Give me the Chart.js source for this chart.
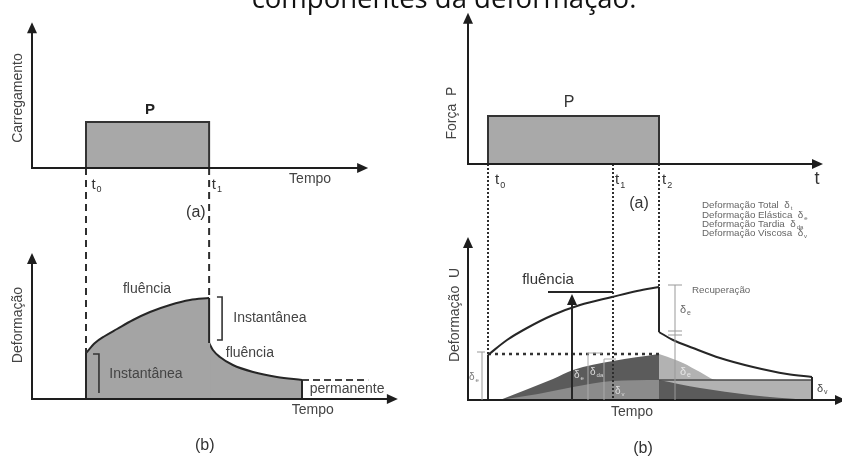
<!DOCTYPE html>
<html>
<head>
<meta charset="utf-8">
<script src="https://cdn.jsdelivr.net/npm/chart.js@4.4.0/dist/chart.umd.min.js"></script>
<style>
  html, body { margin: 0; padding: 0; background: #fff; }
  canvas { display: block; }
</style>
</head>
<body>
<canvas id="fig" width="842" height="457"></canvas>
<script>
// ---- data (schematic units) ----
// left figure: load step and deformation response
const leftLoadT = [2.0, 2.0, 6.56, 6.56];
const leftLoadP = [0, 1, 1, 0];
const leftCreepT = [2.0, 2.33, 2.70, 3.15, 3.74, 4.37, 5.11, 5.85, 6.56];
const leftCreepD = [4.6, 5.6, 6.3, 7.0, 7.9, 8.7, 9.4, 9.9, 10.1];
const leftRecovT = [6.56, 6.7, 6.96, 7.44, 8.19, 9.07, 10.0];
const leftRecovD = [5.6, 4.9, 4.2, 3.4, 2.7, 2.2, 1.9];
const leftPermT = [10.0, 12.45];
const leftPermD = [1.9, 1.9];

// right figure: force P and deformation U
const rightLoadT = [1.0, 1.0, 9.55, 9.55];
const rightLoadP = [0, 1, 1, 0];
const rightCreepT = [1.0, 1.95, 2.95, 4.25, 5.6, 7.2, 8.45, 9.55];
const rightCreepD = [4.5, 6.0, 7.2, 8.5, 9.5, 10.3, 10.9, 11.3];
const rightRecovT = [9.55, 10.25, 11.25, 12.6, 14.25, 15.95, 17.2];
const rightRecovD = [6.8, 6.0, 5.2, 4.2, 3.3, 2.6, 2.3];
const elasticLevelT = [1.0, 9.55];
const elasticLevelD = [4.6, 4.6];
// component areas
const delayedT = [1.6, 3.0, 4.25, 5.25, 7.25, 9.55];
const delayedD = [0, 1.1, 2.1, 3.0, 3.9, 4.6];
const viscousT = [1.6, 3.5, 5.25, 7.2, 9.55];
const viscousD = [0, 0.6, 1.3, 1.9, 2.0];
const elasticRecT = [9.55, 9.7, 10.75, 11.6, 12.45, 17.2];
const elasticRecD = [4.6, 4.5, 3.7, 2.8, 2.0, 2.0];
const delayedRecT = [9.55, 11.6, 14.1, 16.95];
const delayedRecD = [2.0, 1.2, 0.5, 0];
const permBandT = [9.55, 17.2];
const permBandD = [2.0, 2.0];

// ---- layout: where each scale's zero sits on the page, and pixels per unit ----
const W = 842, H = 457;
const FRAME = {
    xL:  { origin: 32,  ppu: 27 },
    yTL: { origin: 168, ppu: 46 },
    yBL: { origin: 399, ppu: 10 },
    xR:  { origin: 468, ppu: 20 },
    yTR: { origin: 164, ppu: 48 },
    yBR: { origin: 400, ppu: 10 }
};

function xScale(f) {
    return { type: 'linear', display: false, min: -f.origin / f.ppu, max: (W - f.origin) / f.ppu };
}
function yScale(f) {
    return { type: 'linear', display: false, min: -(H - f.origin) / f.ppu, max: f.origin / f.ppu };
}

function pts(ts, vs) {
    return ts.map((t, i) => ({ x: t, y: vs[i] }));
}

function line(ts, vs, xID, yID, opts) {
    return Object.assign({
        data: pts(ts, vs),
        xAxisID: xID,
        yAxisID: yID,
        borderColor: '#262626',
        borderWidth: 2,
        pointRadius: 0,
        tension: 0,
        fill: false,
        order: 0
    }, opts || {});
}

const smooth = { tension: 0.4, cubicInterpolationMode: 'monotone' };
const LEFT_FILL = '#a4a4a4';

const datasets = [
    // left top: load
    line(leftLoadT, leftLoadP, 'xL', 'yTL', { fill: 'origin', backgroundColor: '#a8a8a8', borderColor: '#333' }),
    // left bottom: deformation
    line(leftCreepT, leftCreepD, 'xL', 'yBL', Object.assign({ fill: 'origin', backgroundColor: LEFT_FILL, order: 2 }, smooth)),
    line(leftRecovT, leftRecovD, 'xL', 'yBL', Object.assign({ fill: 'origin', backgroundColor: LEFT_FILL, order: 2 }, smooth)),
    // hides the seam where the two filled areas meet
    line([6.56, 6.56], [5.6, 0], 'xL', 'yBL', { borderColor: LEFT_FILL, order: 1 }),
    line([2.0, 2.0], [0, 4.6], 'xL', 'yBL'),
    line([6.56, 6.56], [10.1, 5.6], 'xL', 'yBL'),
    line([10.0, 10.0], [1.9, 0], 'xL', 'yBL'),
    line(leftPermT, leftPermD, 'xL', 'yBL', { borderDash: [7, 4], borderColor: '#444' }),

    // right top: force
    line(rightLoadT, rightLoadP, 'xR', 'yTR', { fill: 'origin', backgroundColor: '#a9a9a9', borderColor: '#333' }),

    // right bottom: component areas
    line(delayedT, delayedD, 'xR', 'yBR', Object.assign({ fill: 'origin', backgroundColor: '#5b5b5b', borderWidth: 0, order: 6 }, smooth)),
    line(viscousT, viscousD, 'xR', 'yBR', Object.assign({ fill: 'origin', backgroundColor: '#8b8b8b', borderWidth: 0, order: 5 }, smooth)),
    line(elasticRecT, elasticRecD, 'xR', 'yBR', Object.assign({ fill: 'origin', backgroundColor: '#b2b2b2', borderWidth: 0, order: 6 }, smooth)),
    line(delayedRecT, delayedRecD, 'xR', 'yBR', Object.assign({ fill: 'origin', backgroundColor: '#5b5b5b', borderWidth: 0, order: 5 }, smooth)),
    line(permBandT, permBandD, 'xR', 'yBR', { borderColor: '#4a4a4a', borderWidth: 1.5, order: 1 }),
    line(elasticLevelT, elasticLevelD, 'xR', 'yBR', { borderDash: [3, 4], borderWidth: 2.5, borderColor: '#333', order: 1 }),

    // right bottom: deformation curve
    line(rightCreepT, rightCreepD, 'xR', 'yBR', smooth),
    line(rightRecovT, rightRecovD, 'xR', 'yBR', smooth),
    line([1.0, 1.0], [0, 4.5], 'xR', 'yBR'),
    line([9.55, 9.55], [11.3, 6.8], 'xR', 'yBR'),
    line([17.2, 17.2], [2.3, 0], 'xR', 'yBR')
];

// ---- annotations ----
const AXES = [
    { x: 'xL', y: 'yTL', xEnd: 12.45, yEnd: 3.17 },
    { x: 'xL', y: 'yBL', xEnd: 13.55, yEnd: 14.6 },
    { x: 'xR', y: 'yTR', xEnd: 17.75, yEnd: 3.15 },
    { x: 'xR', y: 'yBR', xEnd: 18.9, yEnd: 16.3 }
];

// vertical guide lines running from the load axis down to the deformation plot
const CONNECTORS = [
    { ax: 'xL', t: 2.0,  from: ['yTL', 0], to: ['yBL', 4.6],  dash: [7, 5] },
    { ax: 'xL', t: 6.56, from: ['yTL', 0], to: ['yBL', 10.1], dash: [7, 5] },
    { ax: 'xR', t: 1.0,  from: ['yTR', 0], to: ['yBR', 4.5],  dash: [2, 2] },
    { ax: 'xR', t: 7.25, from: ['yTR', 0], to: ['yBR', 0],    dash: [2, 2] },
    { ax: 'xR', t: 9.55, from: ['yTR', 0], to: ['yBR', 11.3], dash: [2, 2] }
];

const GUIDES = [
    { ax: 'xL', ay: 'yBL', c: '#333', w: 1.6, p: [[6.85, 10.2], [7.04, 10.2], [7.04, 5.9], [6.85, 5.9]] },
    { ax: 'xL', ay: 'yBL', c: '#333', w: 1.6, p: [[2.26, 4.5], [2.48, 4.5], [2.48, 0.6]] },
    { ax: 'xR', ay: 'yBR', c: '#999', w: 1, p: [[0.45, 4.8], [0.85, 4.8]] },
    { ax: 'xR', ay: 'yBR', c: '#999', w: 1, p: [[0.7, 4.8], [0.7, 0]] },
    { ax: 'xR', ay: 'yBR', c: '#aaa', w: 1, p: [[6.0, 0], [6.0, 4.7], [6.7, 4.7]] },
    { ax: 'xR', ay: 'yBR', c: '#aaa', w: 1, p: [[6.8, 0], [6.8, 4.1], [7.4, 4.1]] },
    { ax: 'xR', ay: 'yBR', c: '#999', w: 1, p: [[10.35, 11.5], [10.35, 0]] },
    { ax: 'xR', ay: 'yBR', c: '#999', w: 1, p: [[10.0, 11.5], [10.7, 11.5]] },
    { ax: 'xR', ay: 'yBR', c: '#999', w: 1, p: [[10.0, 6.9], [10.7, 6.9]] },
    { ax: 'xR', ay: 'yBR', c: '#999', w: 1, p: [[10.0, 6.5], [10.7, 6.5]] },
    { ax: 'xR', ay: 'yBR', c: '#262626', w: 2, p: [[5.2, 0], [5.2, 10.2]], arrow: true },
    { ax: 'xR', ay: 'yBR', c: '#262626', w: 2, p: [[4.0, 10.8], [7.25, 10.8]] }
];

const FONT = '"Liberation Sans", Arial, sans-serif';
// [text, subscript, xAxis, yAxis, x, y, size, colour, align, rotated, weight]
const TEXTS = [
    ['P', '', 'xL', 'yTL', 4.37, 1.27, 15, '#222', 'center', false, 'bold'],
    ['t', '0', 'xL', 'yTL', 2.2, -0.36, 15, '#333', 'left', false],
    ['t', '1', 'xL', 'yTL', 6.66, -0.36, 15, '#333', 'left', false],
    ['Tempo', '', 'xL', 'yTL', 10.3, -0.24, 14, '#444', 'center', false],
    ['(a)', '', 'xL', 'yTL', 6.07, -0.96, 16, '#333', 'center', false],
    ['Carregamento', '', 'xL', 'yTL', -0.52, 1.52, 14, '#444', 'center', true],
    ['fluência', '', 'xL', 'yBL', 4.26, 11.0, 14, '#444', 'center', false],
    ['Instantânea', '', 'xL', 'yBL', 8.81, 8.1, 14, '#444', 'center', false],
    ['fluência', '', 'xL', 'yBL', 8.07, 4.6, 14, '#444', 'center', false],
    ['Instantânea', '', 'xL', 'yBL', 4.22, 2.5, 14, '#444', 'center', false],
    ['permanente', '', 'xL', 'yBL', 11.67, 1.0, 14, '#444', 'center', false],
    ['Tempo', '', 'xL', 'yBL', 10.4, -1.1, 14, '#444', 'center', false],
    ['(b)', '', 'xL', 'yBL', 6.4, -4.7, 16, '#333', 'center', false],
    ['Deformação', '', 'xL', 'yBL', -0.52, 7.4, 14, '#444', 'center', true],

    ['P', '', 'xR', 'yTR', 5.05, 1.27, 16, '#333', 'center', false],
    ['t', '0', 'xR', 'yTR', 1.35, -0.34, 15, '#333', 'left', false],
    ['t', '1', 'xR', 'yTR', 7.35, -0.34, 15, '#333', 'left', false],
    ['t', '2', 'xR', 'yTR', 9.7, -0.34, 15, '#333', 'left', false],
    ['t', '', 'xR', 'yTR', 17.45, -0.31, 18, '#333', 'center', false],
    ['(a)', '', 'xR', 'yTR', 8.55, -0.83, 16, '#333', 'center', false],
    ['Força  P', '', 'xR', 'yTR', -0.8, 1.06, 14, '#444', 'center', true],
    ['Deformação Total  δ', 't', 'xR', 'yTR', 11.7, -0.86, 9.8, '#666', 'left', false],
    ['Deformação Elástica  δ', 'e', 'xR', 'yTR', 11.7, -1.07, 9.8, '#666', 'left', false],
    ['Deformação Tardia  δ', 'da', 'xR', 'yTR', 11.7, -1.26, 9.8, '#666', 'left', false],
    ['Deformação Viscosa  δ', 'v', 'xR', 'yTR', 11.7, -1.45, 9.8, '#666', 'left', false],

    ['fluência', '', 'xR', 'yBR', 4.0, 12.0, 15, '#333', 'center', false],
    ['Recuperação', '', 'xR', 'yBR', 11.2, 11.0, 9.8, '#666', 'left', false],
    ['δ', 'e', 'xR', 'yBR', 10.6, 9.0, 11, '#666', 'left', false],
    ['δ', 'e', 'xR', 'yBR', 0.05, 2.3, 10, '#777', 'left', false],
    ['δ', 'e', 'xR', 'yBR', 5.3, 2.5, 10, '#ddd', 'left', false],
    ['δ', 'da', 'xR', 'yBR', 6.1, 2.8, 10, '#ddd', 'left', false],
    ['δ', 'v', 'xR', 'yBR', 7.35, 0.9, 10, '#ddd', 'left', false],
    ['δ', 'e', 'xR', 'yBR', 10.6, 2.8, 11, '#e6e6e6', 'left', false],
    ['δ', 'v', 'xR', 'yBR', 17.45, 1.1, 11, '#444', 'left', false],
    ['Tempo', '', 'xR', 'yBR', 8.2, -1.2, 14, '#444', 'center', false],
    ['(b)', '', 'xR', 'yBR', 8.75, -4.9, 16, '#333', 'center', false],
    ['Deformação  U', '', 'xR', 'yBR', -0.65, 8.5, 14, '#444', 'center', true]
];

function arrowHead(c, x, y, dir) {
    const len = 11, half = 5;
    c.save();
    c.translate(x, y);
    c.rotate(dir);
    c.beginPath();
    c.moveTo(0, 0);
    c.lineTo(-len, -half);
    c.lineTo(-len, half);
    c.closePath();
    c.fillStyle = '#1e1e1e';
    c.fill();
    c.restore();
}

const annotations = {
    id: 'annotations',
    afterDatasetsDraw(chart) {
        const c = chart.ctx;
        const sx = (id, v) => chart.scales[id].getPixelForValue(v);
        c.save();

        // title, cut by the top edge as in the source
        c.fillStyle = '#111';
        c.font = '27.5px "Open Sans", "Noto Sans", sans-serif';
        c.textAlign = 'center';
        c.textBaseline = 'alphabetic';
        c.fillText('componentes da deformação.', 444, 7.5);

        // connectors
        c.strokeStyle = '#2e2e2e';
        c.lineWidth = 2;
        CONNECTORS.forEach(k => {
            const x = sx(k.ax, k.t);
            c.setLineDash(k.dash);
            c.beginPath();
            c.moveTo(x, sx(k.from[0], k.from[1]));
            c.lineTo(x, sx(k.to[0], k.to[1]));
            c.stroke();
        });
        c.setLineDash([]);

        // axes with arrows
        AXES.forEach(a => {
            const x0 = sx(a.x, 0), y0 = sx(a.y, 0);
            const x1 = sx(a.x, a.xEnd), y1 = sx(a.y, a.yEnd);
            c.strokeStyle = '#1e1e1e';
            c.lineWidth = 2;
            c.beginPath();
            c.moveTo(x0, y1 + 6);
            c.lineTo(x0, y0);
            c.lineTo(x1 - 6, y0);
            c.stroke();
            arrowHead(c, x1, y0, 0);
            arrowHead(c, x0, y1, -Math.PI / 2);
        });

        // brackets and guide marks
        GUIDES.forEach(g => {
            c.strokeStyle = g.c;
            c.lineWidth = g.w;
            c.beginPath();
            g.p.forEach((q, i) => {
                const X = sx(g.ax, q[0]), Y = sx(g.ay, q[1]);
                if (i === 0) c.moveTo(X, Y); else c.lineTo(X, Y);
            });
            c.stroke();
            if (g.arrow) {
                const last = g.p[g.p.length - 1];
                arrowHead(c, sx(g.ax, last[0]), sx(g.ay, last[1]) - 4, -Math.PI / 2);
            }
        });

        // labels
        TEXTS.forEach(t => {
            const [s, sub, ax, ay, x, y, size, col, align, rot, weight] = t;
            const X = sx(ax, x), Y = sx(ay, y);
            c.save();
            c.translate(X, Y);
            if (rot) c.rotate(-Math.PI / 2);
            c.fillStyle = col;
            c.textBaseline = 'middle';
            c.font = (weight || 'normal') + ' ' + size + 'px ' + FONT;
            const wMain = c.measureText(s).width;
            const subSize = Math.round(size * 0.62);
            c.font = subSize + 'px ' + FONT;
            const wSub = sub ? c.measureText(sub).width + 1 : 0;
            let left = align === 'center' ? -(wMain + wSub) / 2 : 0;
            c.textAlign = 'left';
            c.font = (weight || 'normal') + ' ' + size + 'px ' + FONT;
            c.fillText(s, left, 0);
            if (sub) {
                c.font = subSize + 'px ' + FONT;
                c.fillText(sub, left + wMain + 1, size * 0.32);
            }
            c.restore();
        });

        c.restore();
    }
};

new Chart(document.getElementById('fig'), {
    type: 'line',
    data: { datasets: datasets },
    options: {
        responsive: false,
        animation: false,
        devicePixelRatio: 1,
        events: [],
        layout: { padding: 0 },
        plugins: {
            legend: { display: false },
            tooltip: { enabled: false },
            title: { display: false }
        },
        scales: {
            xL: xScale(FRAME.xL),
            xR: xScale(FRAME.xR),
            yTL: yScale(FRAME.yTL),
            yBL: yScale(FRAME.yBL),
            yTR: yScale(FRAME.yTR),
            yBR: yScale(FRAME.yBR)
        }
    },
    plugins: [annotations]
});
</script>
</body>
</html>
